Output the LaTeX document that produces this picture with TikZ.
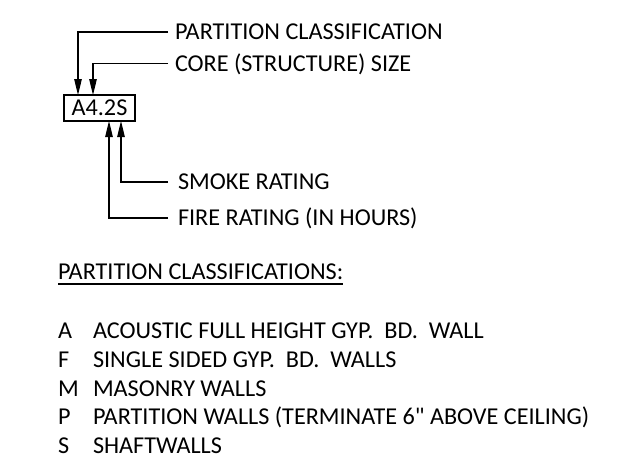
\documentclass[tikz,border=0pt]{standalone}
\usepackage{fontspec}
\setmainfont{Carlito}
\usetikzlibrary{arrows.meta}
\begin{document}
\begin{tikzpicture}[x=1pt,y=-1pt,
  every node/.style={inner sep=0pt,outer sep=0pt,font=\fontsize{24.2}{28}\selectfont},
  lbl/.style={anchor=base west},
  lead/.style={line width=1.2pt,-{Triangle[length=16pt,width=7.5pt]}},
  tagbox/.style={draw,line width=2pt,minimum width=71pt,minimum height=26pt}]
\useasboundingbox (0,0) rectangle (633,464);
\node[tagbox] (box) at (99.5,108) {A4.2S};
\node[lbl] (pc) at (175,39.8) {PARTITION CLASSIFICATION};
\node[lbl] (cs) at (175,71.3) {CORE (STRUCTURE) SIZE};
\node[lbl] (sr) at (178,189.8) {SMOKE RATING};
\node[lbl] (fr) at (178,225.8) {FIRE RATING (IN HOURS)};
\coordinate (pcE) at (168,32);
\coordinate (csE) at (168,63.5);
\coordinate (srE) at (168,182);
\coordinate (frE) at (168,218);
\coordinate (pcT) at ([xshift=-21.5pt]box.north);
\coordinate (csT) at ([xshift=-6.5pt]box.north);
\coordinate (srT) at ([xshift=21.5pt]box.south);
\coordinate (frT) at ([xshift=9.5pt]box.south);
\draw[lead] (pcE) -| (pcT);
\draw[lead] (csE) -| (csT);
\draw[lead] (srE) -| (srT);
\draw[lead] (frE) -| (frT);
\node[lbl] (hd) at (58,279.8) {PARTITION CLASSIFICATIONS:};
\draw[line width=1.8pt] ([yshift=-4pt]hd.base west) -- ([yshift=-4pt]hd.base east);
\node[lbl] (la) at (58,338.8) {A};
\node[lbl] (lf) at (58,367.5) {F};
\node[lbl] (lm) at (58,396.2) {M};
\node[lbl] (lp) at (58,424.9) {P};
\node[lbl] (ls) at (58,453.6) {S};
\node[lbl] (ta) at (93,338.8) {ACOUSTIC FULL HEIGHT GYP.\ \ BD.\ \ WALL};
\node[lbl] (tf) at (93,367.5) {SINGLE SIDED GYP.\ \ BD.\ \ WALLS};
\node[lbl] (tm) at (93,396.2) {MASONRY WALLS};
\node[lbl] (tp) at (93,424.9) {PARTITION WALLS (TERMINATE 6\textquotedbl\ ABOVE CEILING)};
\node[lbl] (ts) at (93,453.6) {SHAFTWALLS};
\end{tikzpicture}
\end{document}
